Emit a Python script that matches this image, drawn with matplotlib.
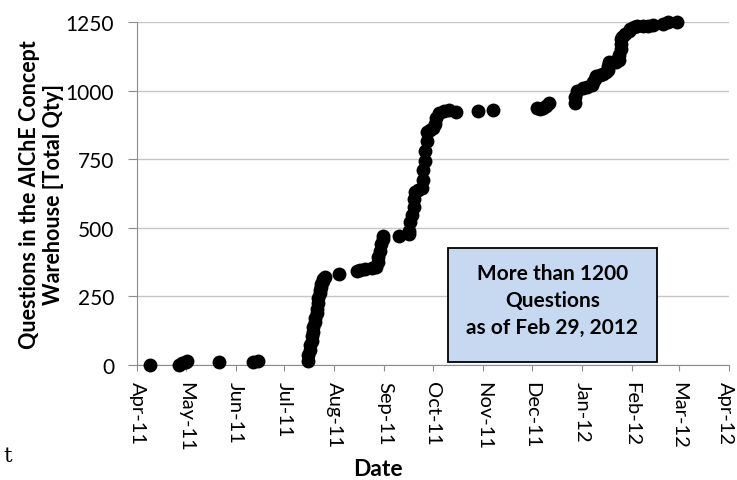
import matplotlib
matplotlib.use('Agg')
import matplotlib.pyplot as plt
import matplotlib.dates as mdates
import matplotlib.transforms as mtransforms
from matplotlib.patches import Rectangle
import pandas as pd

# cumulative question count
dates = ['2011-04-09', '2011-04-27', '2011-04-29', '2011-05-01', '2011-05-02',
         '2011-05-22', '2011-06-12', '2011-06-15',
         '2011-07-16', '2011-07-16', '2011-07-17', '2011-07-17', '2011-07-18',
         '2011-07-18', '2011-07-19', '2011-07-19', '2011-07-20', '2011-07-20',
         '2011-07-21', '2011-07-21', '2011-07-22', '2011-07-22', '2011-07-23',
         '2011-07-23', '2011-07-24', '2011-07-24', '2011-07-25', '2011-07-25',
         '2011-07-26',
         '2011-08-04', '2011-08-15', '2011-08-17', '2011-08-20', '2011-08-24',
         '2011-08-27', '2011-08-28', '2011-08-28', '2011-08-29', '2011-08-30',
         '2011-08-31', '2011-08-31',
         '2011-09-10', '2011-09-16', '2011-09-16', '2011-09-17', '2011-09-18',
         '2011-09-19', '2011-09-19', '2011-09-20', '2011-09-22', '2011-09-24',
         '2011-09-25', '2011-09-25', '2011-09-26', '2011-09-26', '2011-09-27',
         '2011-09-27', '2011-09-29', '2011-10-01', '2011-10-02', '2011-10-03',
         '2011-10-05', '2011-10-08', '2011-10-11', '2011-10-15',
         '2011-10-29', '2011-11-07',
         '2011-12-04', '2011-12-06', '2011-12-08', '2011-12-10', '2011-12-12',
         '2011-12-28', '2011-12-28', '2011-12-29',
         '2012-01-02', '2012-01-04', '2012-01-07', '2012-01-08', '2012-01-09',
         '2012-01-10', '2012-01-12', '2012-01-14', '2012-01-16', '2012-01-17',
         '2012-01-17', '2012-01-18', '2012-01-20', '2012-01-22', '2012-01-24',
         '2012-01-24', '2012-01-25', '2012-01-25', '2012-01-25', '2012-01-26',
         '2012-01-28', '2012-01-30', '2012-01-31',
         '2012-02-02', '2012-02-04', '2012-02-08', '2012-02-11', '2012-02-14',
         '2012-02-20', '2012-02-23', '2012-02-29']
questions = [0, 0, 8, 12, 14,
             12, 12, 15,
             15, 35, 55, 72, 88,
             105, 120, 140, 158, 172,
             188, 205, 225, 245, 262,
             275, 285, 295, 305, 315,
             322,
             331, 342, 345, 350, 352,
             356, 375, 395, 415, 440,
             458, 470,
             471, 477, 490, 520, 545,
             575, 605, 630, 636, 645,
             675, 710, 745, 780, 815,
             848, 855, 862, 880, 900,
             918, 925, 930, 922,
             925, 930,
             936, 934, 937, 945, 956,
             955, 978, 1000,
             1008, 1012, 1020, 1032, 1044,
             1054, 1058, 1062, 1068, 1075,
             1090, 1103, 1105, 1106, 1112,
             1130, 1150, 1170, 1188, 1195,
             1205, 1218, 1224,
             1232, 1236, 1234, 1237, 1239,
             1243, 1249, 1249]
y_ticks = [0, 250, 500, 750, 1000, 1250]
note_lines = ['More than 1200', 'Questions', 'as of Feb 29, 2012']

plt.rcParams['font.family'] = ['Lato', 'DejaVu Sans']

fig = plt.figure(figsize=(7.37, 4.81), dpi=100)
ax = fig.add_axes([137 / 737, 115 / 481, 592 / 737, 343 / 481])

x = pd.to_datetime(dates)
ax.scatter(x, questions, s=100, color='black', zorder=3, clip_on=False,
           linewidths=0)

ax.set_xlim(pd.Timestamp('2011-04-01'), pd.Timestamp('2012-04-01'))
ax.set_ylim(0, 1250)
ax.set_yticks(y_ticks)
ax.xaxis.set_major_locator(mdates.MonthLocator())
ax.xaxis.set_major_formatter(mdates.DateFormatter('%b-%y'))

ax.grid(axis='y', color='#c6c6c6', linewidth=1)
ax.set_axisbelow(True)
for side in ['top', 'right']:
    ax.spines[side].set_visible(False)
for side in ['left', 'bottom']:
    ax.spines[side].set_color('#8c8c8c')
ax.tick_params(axis='both', direction='out', color='#8c8c8c',
               labelcolor='black')
ax.tick_params(axis='x', length=4.5, pad=7, labelsize=14.5)
ax.tick_params(axis='y', length=6.5, pad=10, labelsize=15)

fig.canvas.draw()
xlabels = ax.get_xticklabels()
for lab in xlabels:
    lab.set_rotation(270)
    lab.set_ha('center')
    lab.set_va('top')
# the last month label sits on the figure edge, nudge it inside
shift = mtransforms.ScaledTranslation(-4 / 100, 0, fig.dpi_scale_trans)
xlabels[-1].set_transform(xlabels[-1].get_transform() + shift)

ax.set_ylabel('Questions in the AIChE Concept\nWarehouse [Total Qty]',
              fontsize=15.5, fontweight='bold', linespacing=1.15)
ax.yaxis.set_label_coords((64 - 137) / 592, 0.5)
fig.text(378 / 737, 1 - 470 / 481, 'Date', fontsize=16.5,
         fontweight='bold', ha='center', va='center')

# callout box
ax.add_patch(Rectangle((311 / 592, 3 / 343), 209 / 592, 114 / 343,
                       transform=ax.transAxes, facecolor='#c6d9f1',
                       edgecolor='black', linewidth=1.3, zorder=4))
ax.text(415.5 / 592, 65 / 343, '\n'.join(note_lines), transform=ax.transAxes,
        ha='center', va='center', fontsize=15, fontweight='bold',
        linespacing=1.45, zorder=5)

# stray glyph at left edge of the original crop
fig.text(3 / 737, 1 - 462 / 481, 't', fontsize=15, family='DejaVu Serif')

fig.savefig('out.png', dpi=100)
